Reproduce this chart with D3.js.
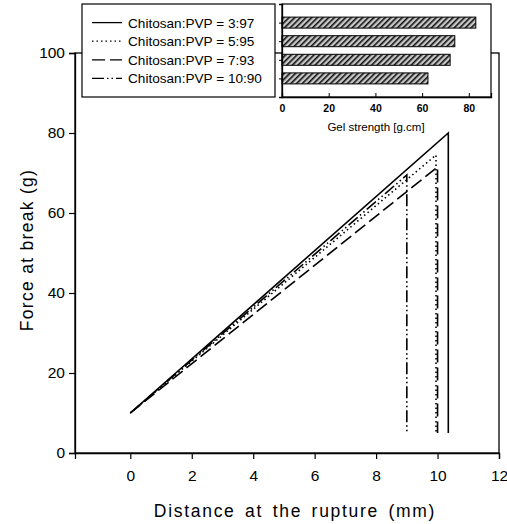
<!DOCTYPE html>
<html><head><meta charset="utf-8">
<script src="https://cdn.jsdelivr.net/npm/d3@7"></script>
<style>body{margin:0;background:#fff}svg{display:block}text{font-family:"Liberation Sans",Arial,sans-serif;fill:#000}</style>
</head><body><svg id="c" width="507" height="524"></svg>
<script>
// ---- data ----
const seriesNames = ["Chitosan:PVP = 3:97","Chitosan:PVP = 5:95","Chitosan:PVP = 7:93","Chitosan:PVP = 10:90"];
const seriesX = [[0,10.35,10.35],[0,9.95,9.95],[0,10.0,10.0],[0,9.0,9.0]];
const seriesY = [[10,80,5],[10,74.5,5],[10,71.5,5],[10,69.5,5]];
const dashes = [null,"1.5,3","13,5","12,3,1.5,3,1.5,3"];
const xTicks = [0,2,4,6,8,10,12];
const yTicks = [0,20,40,60,80,100];
const gelValues = [83,74,72,62.5];
const gelTicks = [0,20,40,60,80];

const svg = d3.select("#c");
const m = {l:75, r:499, t:53, b:453};
const x = d3.scaleLinear().domain([-1.8,12]).range([m.l,m.r]);
const y = d3.scaleLinear().domain([0,100]).range([m.b,m.t]);

// hatch pattern
const defs = svg.append("defs");
const pat = defs.append("pattern").attr("id","hatch").attr("patternUnits","userSpaceOnUse")
  .attr("width",4).attr("height",4).attr("patternTransform","rotate(45)");
pat.append("rect").attr("width",4).attr("height",4).attr("fill","#c8c8c8");
pat.append("rect").attr("width",1.6).attr("height",4).attr("fill","#111");

// frame
svg.append("rect").attr("x",m.l).attr("y",m.t).attr("width",m.r-m.l).attr("height",m.b-m.t)
  .attr("fill","none").attr("stroke","#000").attr("stroke-width",1.3);

// axes
const xa = svg.append("g").attr("transform",`translate(0,${m.b})`)
  .call(d3.axisBottom(x).tickValues(xTicks).tickSize(6).tickPadding(11));
const ya = svg.append("g").attr("transform",`translate(${m.l},0)`)
  .call(d3.axisLeft(y).tickValues(yTicks).tickSize(6).tickPadding(4));
[xa,ya].forEach(g=>{g.select(".domain").attr("stroke","#000").attr("stroke-width",1.3);
  g.selectAll(".tick line").attr("stroke","#000").attr("stroke-width",1.2);
  g.selectAll(".tick text").style("font-size","15.5px").attr("fill","#000");});

// lines
const line = d3.line().x(d=>x(d[0])).y(d=>y(d[1]));
seriesNames.forEach((n,i)=>{
  const pts = seriesX[i].map((v,j)=>[v,seriesY[i][j]]);
  svg.append("path").attr("d",line(pts)).attr("fill","none").attr("stroke","#000")
    .attr("stroke-width",1.6).attr("stroke-dasharray",dashes[i]);
});

// axis titles
svg.append("text").attr("x",295).attr("y",517).attr("text-anchor","middle")
  .style("font-size","17.5px").style("letter-spacing","1.7px").style("word-spacing","3px").text("Distance at the rupture (mm)");
svg.append("text").attr("transform","translate(33,250) rotate(-90)").attr("text-anchor","middle")
  .style("font-size","17.5px").style("letter-spacing","1.3px").text("Force at break (g)");

// legend
const lg = {x0:82,x1:275,y0:4,y1:97};
svg.append("rect").attr("x",lg.x0).attr("y",lg.y0).attr("width",lg.x1-lg.x0).attr("height",lg.y1-lg.y0)
  .attr("fill","#fff").attr("stroke","#000").attr("stroke-width",1.2);
const ly = d3.scaleLinear().domain([0,5]).range([lg.y0,lg.y1]);
seriesNames.forEach((n,i)=>{
  const yy = ly(i+1);
  svg.append("line").attr("x1",92).attr("x2",122).attr("y1",yy).attr("y2",yy)
    .attr("stroke","#000").attr("stroke-width",1.3).attr("stroke-dasharray",dashes[i]);
  svg.append("text").attr("x",128).attr("y",yy+5).style("font-size","13.6px").text(n);
});

// inset bar chart
const ins = {l:282,r:491,t:4,b:97};
svg.append("rect").attr("x",ins.l).attr("y",ins.t).attr("width",ins.r-ins.l).attr("height",ins.b-ins.t)
  .attr("fill","#fff").attr("stroke","#000").attr("stroke-width",1.2);
const gx = d3.scaleLinear().domain([0,89.5]).range([ins.l,ins.r]);
const gy = d3.scaleLinear().domain([0,5]).range([ins.t,ins.b]);
gelValues.forEach((v,i)=>{
  svg.append("rect").attr("x",gx(0)).attr("y",gy(i+1)-5.5).attr("width",gx(v)-gx(0)).attr("height",11)
    .attr("fill","url(#hatch)").attr("stroke","#000").attr("stroke-width",1);
});
const gxa = svg.append("g").attr("transform",`translate(0,${ins.b})`)
  .call(d3.axisBottom(gx).tickValues(gelTicks).tickSize(-4).tickPadding(8));
const gya = svg.append("g").attr("transform",`translate(${ins.l},0)`)
  .call(d3.axisLeft(gy).tickValues([1,2,3,4]).tickSize(3).tickFormat(""));
[gxa,gya].forEach(g=>{g.select(".domain").attr("stroke","#000").attr("stroke-width",1.3);
  g.selectAll(".tick line").attr("stroke","#000");
  g.selectAll(".tick text").style("font-size","10.5px").style("font-weight","bold").attr("fill","#000");});
svg.append("text").attr("x",376).attr("y",131).attr("text-anchor","middle")
  .style("font-size","11.5px").text("Gel strength [g.cm]");
</script></body></html>
